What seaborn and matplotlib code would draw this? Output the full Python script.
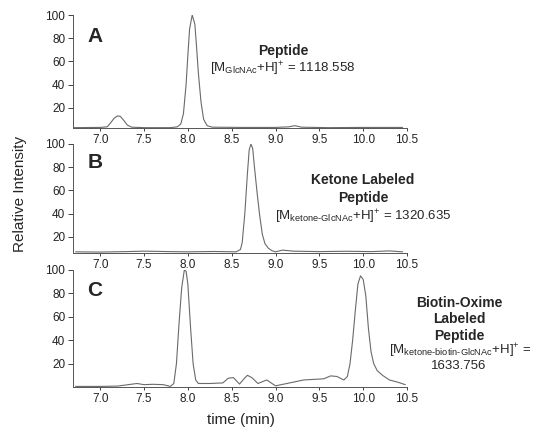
import numpy as np
import pandas as pd
import matplotlib
matplotlib.use("Agg")
import matplotlib.pyplot as plt
import seaborn as sns

# ============================
# Data
# ============================

time_a = [6.70, 7.00, 7.08, 7.12, 7.16, 7.20, 7.23, 7.27, 7.31, 7.36, 7.50,
          7.80, 7.88, 7.92, 7.95, 7.98, 8.00, 8.02, 8.05, 8.08, 8.10, 8.12,
          8.15, 8.18, 8.22, 8.28, 8.60, 9.00, 9.15, 9.22, 9.30, 9.60, 10.0, 10.45]
inten_a = [2.8, 3.0, 3.5, 7.0, 11.0, 13.0, 12.5, 9.0, 5.0, 3.2, 2.8,
           2.8, 3.5, 6.0, 15.0, 40.0, 65.0, 88.0, 100.0, 92.0, 72.0, 50.0,
           25.0, 10.0, 4.5, 3.2, 3.0, 3.0, 3.5, 4.5, 3.2, 2.8, 3.0, 3.0]

time_b = [6.72, 7.00, 7.30, 7.50, 7.80, 8.00, 8.30, 8.55, 8.60, 8.62, 8.65,
          8.68, 8.70, 8.72, 8.74, 8.76, 8.79, 8.82, 8.85, 8.88, 8.92, 8.96,
          9.00, 9.08, 9.20, 9.50, 9.80, 10.10, 10.30, 10.45]
inten_b = [7.0, 6.8, 7.2, 7.6, 7.2, 7.0, 7.3, 7.0, 9.0, 15.0, 40.0,
           75.0, 95.0, 100.0, 96.0, 80.0, 58.0, 38.0, 22.0, 14.0, 10.0, 8.0,
           7.0, 8.5, 7.6, 7.2, 7.5, 7.2, 7.8, 7.0]

time_c = [6.72, 7.00, 7.20, 7.30, 7.42, 7.50, 7.60, 7.72, 7.80, 7.84, 7.87,
          7.90, 7.93, 7.96, 7.98, 8.00, 8.03, 8.06, 8.09, 8.12, 8.25, 8.40,
          8.46, 8.52, 8.59, 8.64, 8.68, 8.73, 8.80, 8.90, 9.00, 9.13, 9.32,
          9.55, 9.63, 9.70, 9.78, 9.82, 9.85, 9.88, 9.91, 9.94, 9.97, 10.00,
          10.03, 10.06, 10.09, 10.12, 10.16, 10.22, 10.30, 10.40, 10.48]
inten_c = [0.5, 0.5, 0.8, 1.8, 3.0, 2.0, 2.3, 2.0, 0.5, 3.0, 20.0,
           55.0, 85.0, 100.0, 99.0, 88.0, 52.0, 20.0, 6.0, 3.0, 3.0, 3.5,
           7.5, 8.0, 2.5, 7.0, 10.0, 8.0, 3.0, 6.0, 1.0, 3.0, 6.0,
           7.0, 9.5, 9.0, 6.0, 9.0, 20.0, 40.0, 65.0, 88.0, 95.0, 92.0,
           78.0, 50.0, 30.0, 20.0, 14.0, 10.0, 6.0, 4.0, 2.0]

panel_letters = ["A", "B", "C"]
y_floor = [2.5, 6.0, 0.0]
x_ticks = [7.0, 7.5, 8.0, 8.5, 9.0, 9.5, 10.0, 10.5]
y_ticks = [20, 40, 60, 80, 100]

# ============================
# Style
# ============================

sns.set_theme(style="ticks")
plt.rcParams["font.family"] = ["Liberation Sans", "DejaVu Sans"]
plt.rcParams["mathtext.fontset"] = "custom"
plt.rcParams["mathtext.rm"] = "Liberation Sans"
plt.rcParams["mathtext.it"] = "Liberation Sans:italic"
plt.rcParams["mathtext.bf"] = "Liberation Sans:bold"

W, H = 535, 428
fig = plt.figure(figsize=(W / 100, H / 100), dpi=100)


def fx(px):
    return px / W


def fy(py):
    return 1 - py / H


# axes boxes in pixels: (top, bottom)
boxes = [(15, 128), (144, 253), (270, 387)]
x_left, x_right = 73, 407

traces = [(time_a, inten_a), (time_b, inten_b), (time_c, inten_c)]

for i, ((top, bottom), (t, v)) in enumerate(zip(boxes, traces)):
    ax = fig.add_axes([fx(x_left), fy(bottom), fx(x_right) - fx(x_left),
                       (bottom - top) / H])
    df = pd.DataFrame({"time": t, "intensity": v})
    sns.lineplot(data=df, x="time", y="intensity", ax=ax,
                 color="#6a6a6a", linewidth=0.8)
    ax.set_xlim(6.69, 10.5)
    ax.set_ylim(y_floor[i], 100)
    ax.set_xticks(x_ticks)
    ax.set_xticklabels([f"{x:.1f}" for x in x_ticks])
    ax.set_yticks(y_ticks)
    ax.tick_params(axis="x", length=2, width=0.6, pad=2,
                   labelsize=8.5, colors="#222222")
    ax.tick_params(axis="y", length=3.5, width=0.6, pad=2,
                   labelsize=8.5, colors="#222222")
    ax.set_xlabel("")
    ax.set_ylabel("")
    sns.despine(ax=ax)
    for s in ["left", "bottom"]:
        ax.spines[s].set_color("#555555")
        ax.spines[s].set_linewidth(0.7)
    ax.patch.set_alpha(0)

# ============================
# Panel letters and labels
# ============================

letter_pos = [(95, 36), (95, 162), (95, 290)]
for letter, (px, py) in zip(panel_letters, letter_pos):
    fig.text(fx(px), fy(py), letter, fontsize=15, fontweight="bold",
             ha="center", va="center")

bold_kw = dict(fontsize=10, fontweight="bold", ha="center", va="center")
norm_kw = dict(fontsize=9.5, ha="center", va="center")

fig.text(fx(283), fy(51), "Peptide", **bold_kw)
fig.text(fx(283), fy(69), r"[M$_{\mathrm{GlcNAc}}$+H]$^{+}$ = 1118.558", **norm_kw)

fig.text(fx(363), fy(180), "Ketone Labeled", **bold_kw)
fig.text(fx(363), fy(198), "Peptide", **bold_kw)
fig.text(fx(363), fy(217), r"[M$_{\text{ketone-GlcNAc}}$+H]$^{+}$ = 1320.635", **norm_kw)

fig.text(fx(459), fy(303), "Biotin-Oxime", **bold_kw)
fig.text(fx(459), fy(319), "Labeled", **bold_kw)
fig.text(fx(459), fy(336), "Peptide", **bold_kw)
fig.text(fx(460), fy(351), r"[M$_{\text{ketone-biotin-GlcNAc}}$+H]$^{+}$ =", **norm_kw)
fig.text(fx(459), fy(366), "1633.756", **norm_kw)

fig.text(fx(20), fy(194), "Relative Intensity", fontsize=11,
         rotation=90, ha="center", va="center")
fig.text(fx(241), fy(420), "time (min)", fontsize=11,
         ha="center", va="center")

fig.savefig("out.png", dpi=100)
